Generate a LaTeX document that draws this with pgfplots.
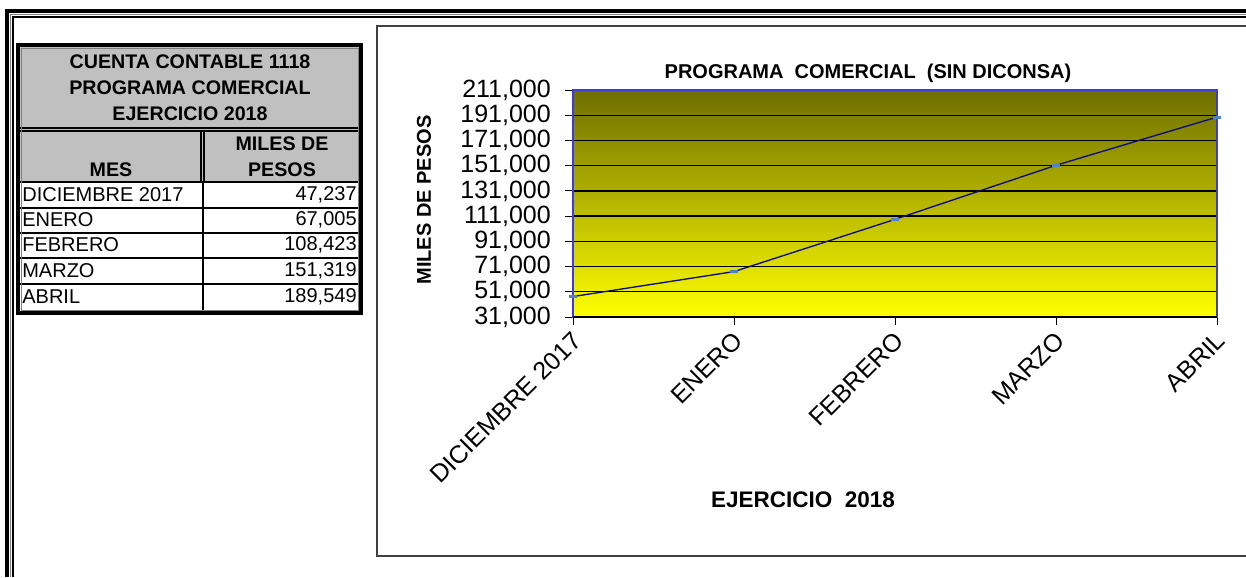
\documentclass[border=0pt]{standalone}
\usepackage{fontspec}
\setmainfont{Liberation Sans}
\usepackage{pgfplots}
\pgfplotsset{compat=1.18}
\definecolor{tgray}{RGB}{192,192,192}
\definecolor{olivetop}{RGB}{110,110,0}
\definecolor{axblue}{RGB}{60,60,220}
\definecolor{linenavy}{RGB}{10,10,120}
\definecolor{mkblue}{RGB}{80,130,200}
\begin{document}
\begin{tikzpicture}[x=0.6pt,y=-0.6pt]
\useasboundingbox (0,0) rectangle (1246,577);
% outer frame
\fill[black] (5,9) rectangle (1246,13);
\fill[black] (5,9) rectangle (9,577);
\draw[gray,line width=0.6pt] (1246,14.5) -- (10.5,14.5) -- (10.5,577);
\fill[black] (12,16) rectangle (1246,18);
\fill[black] (12,16) rectangle (14,577);
% chart box
\draw[black!75,line width=1pt] (1246,26) -- (377,26) -- (377,556) -- (1246,556);
% table
\fill[tgray] (18,45) rectangle (361,182);
\draw[black,line width=0.7pt] (18,208) -- (361,208) (18,233) -- (361,233) (18,258) -- (361,258) (18,284) -- (361,284);
\draw[black,line width=1.2pt] (18,182) -- (361,182);
\draw[black,line width=0.8pt] (18,128) -- (361,128) (18,131) -- (361,131);
\draw[black,line width=0.8pt] (201,131) -- (201,182) (204,131) -- (204,182);
\draw[black,line width=0.7pt] (203,182) -- (203,313);
\draw[black,line width=2pt] (18,45) rectangle (361,313);
\draw[gray,line width=0.5pt] (21,48) rectangle (358,310);
\begin{scope}[font=\fontsize{11.8pt}{14pt}\selectfont\bfseries]
\node at (190,62) {CUENTA CONTABLE 1118};
\node at (190,88) {PROGRAMA COMERCIAL};
\node at (190,114) {EJERCICIO 2018};
\node at (111,170) {MES};
\node at (282,144) {MILES DE};
\node at (282,170) {PESOS};
\end{scope}
\begin{scope}[font=\fontsize{12pt}{14pt}\selectfont]
\node[anchor=west,inner sep=0pt] at (22,195) {DICIEMBRE 2017};
\node[anchor=west,inner sep=0pt] at (22,220) {ENERO};
\node[anchor=west,inner sep=0pt] at (22,245) {FEBRERO};
\node[anchor=west,inner sep=0pt] at (22,271) {MARZO};
\node[anchor=west,inner sep=0pt] at (22,297) {ABRIL};
\node[anchor=east,inner sep=0pt] at (357,195) {47,237};
\node[anchor=east,inner sep=0pt] at (357,220) {67,005};
\node[anchor=east,inner sep=0pt] at (357,245) {108,423};
\node[anchor=east,inner sep=0pt] at (357,271) {151,319};
\node[anchor=east,inner sep=0pt] at (357,297) {189,549};
\end{scope}
% chart
\begin{axis}[
  at={(343.8pt,-190.2pt)}, anchor=south west,
  width=386.4pt, height=136.2pt, scale only axis,
  xmin=0, xmax=4, ymin=31000, ymax=211000,
  xtick={0,1,2,3,4},
  xticklabels={DICIEMBRE 2017,ENERO,FEBRERO,MARZO,ABRIL},
  ytick={31000,51000,71000,91000,111000,131000,151000,171000,191000,211000},
  scaled y ticks=false,
  /pgf/number format/.cd, fixed, precision=0, 1000 sep={,}, assume math mode=true, /pgfplots/.cd,
  tick align=outside, major tick length=4.8pt,
  tick style={black, line width=0.6pt},
  xtick pos=bottom, ytick pos=left,
  ymajorgrids, grid style={black, line width=0.8pt},
  axis line style={axblue, line width=0.8pt},
  axis background/.style={top color=olivetop, bottom color=yellow},
  ticklabel style={font=\fontsize{15pt}{17pt}\selectfont},
  yticklabel style={xshift=-5pt},
  xticklabel style={rotate=45, anchor=north east, inner sep=1pt, xshift=-2pt},
  clip=false,
]
\addplot[linenavy, line width=0.8pt, mark=-, mark size=2.4pt, mark options={mkblue, line width=1.8pt}]
  coordinates {(0,47237) (1,67005) (2,108423) (3,151319) (4,189549)};
\draw[black, line width=0.8pt] (rel axis cs:0,0) -- (rel axis cs:1,0);
\end{axis}
\node[font=\fontsize{12pt}{14pt}\selectfont\bfseries] at (868,73) {PROGRAMA\ \ COMERCIAL\ \ (SIN DICONSA)};
\node[font=\fontsize{13.5pt}{16pt}\selectfont\bfseries] at (803,500) {EJERCICIO\ \ 2018};
\node[font=\fontsize{12pt}{14pt}\selectfont\bfseries, rotate=90] at (424,200) {MILES DE PESOS};
\end{tikzpicture}
\end{document}
